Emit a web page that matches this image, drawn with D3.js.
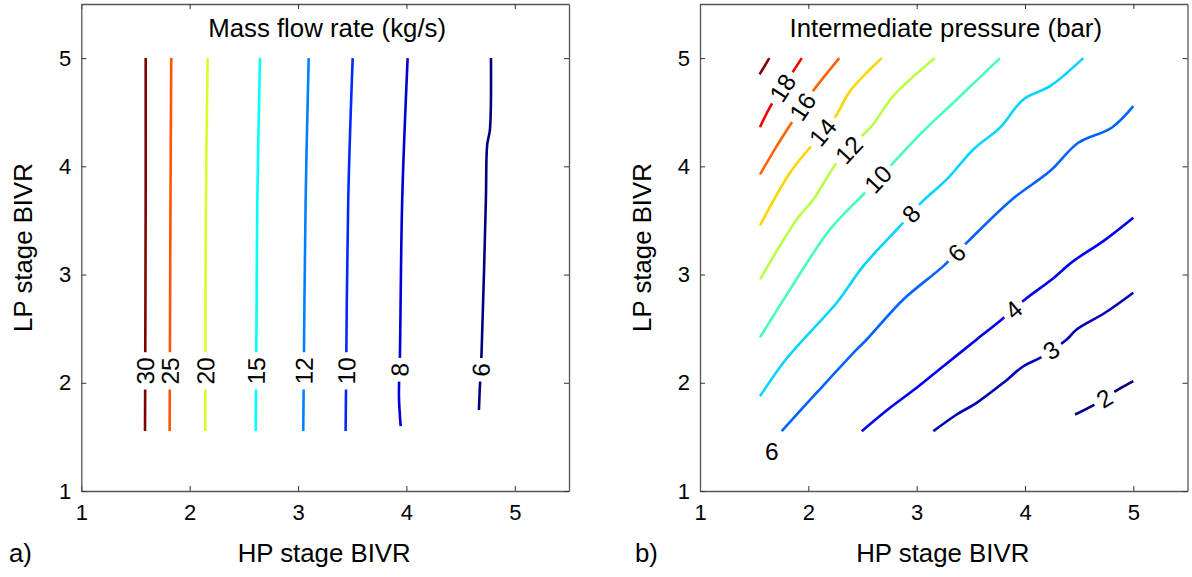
<!DOCTYPE html>
<html lang="en">
<head>
<meta charset="UTF-8" />
<title>BIVR contour maps</title>
<script src="https://d3js.org/d3.v7.min.js"></script>
<style>
  body { margin: 0; background: #fff; }
  svg { display: block; font-family: "Liberation Sans", Arial, Helvetica, sans-serif; }
  .axis text { font-size: 22px; fill: #000; }
  .axis .domain { stroke: #555; stroke-width: 1.3; }
  .axis line { stroke: #333; }
  .title, .alabel, .tag { font-size: 25.8px; fill: #000; }
  .clabel { font-size: 24.5px; fill: #000; }
  .contour { fill: none; stroke-width: 2.6; stroke-linejoin: round; stroke-linecap: butt; }
</style>
</head>
<body>
<div id="chart"></div>
<script>
// ---- data (HP stage BIVR, LP stage BIVR) ----
const xTicks = [1, 2, 3, 4, 5];
const yTicks = [1, 2, 3, 4, 5];

// a) mass flow rate (kg/s)
const massLevels = [30, 25, 20, 15, 12, 10, 8, 6];
const massPaths = [
  [[1.594, 5.0], [1.594, 3.69], [1.588, 1.555]],
  [[1.830, 5.0], [1.823, 3.69], [1.815, 1.555]],
  [[2.166, 5.0], [2.150, 3.69], [2.144, 1.555]],
  [[2.649, 5.0], [2.624, 3.69], [2.618, 2.765], [2.609, 1.555]],
  [[3.098, 5.0], [3.070, 3.69], [3.048, 1.555]],
  [[3.504, 5.0], [3.463, 3.69], [3.439, 1.555]],
  [[4.011, 5.0], [3.961, 3.69], [3.940, 2.257], [3.931, 1.872], [3.947, 1.60]],
  [[4.780, 5.0], [4.770, 4.336], [4.745, 4.198], [4.733, 3.689], [4.694, 2.303], [4.675, 1.906], [4.669, 1.749]]
];
const massLabelY = [2.11, 2.11, 2.11, 2.11, 2.11, 2.11, 2.12, 2.12];

// b) intermediate pressure (bar)
const pressureLevels = [20, 18, 16, 14, 12, 10, 8, 6, 4, 3, 2];
const pressurePaths = [
  [[1.64, 5.0], [1.55, 4.849]],
  [[1.939, 5.0], [1.831, 4.833], [1.655, 4.563], [1.554, 4.362]],
  [[2.286, 5.0], [2.031, 4.680], [1.846, 4.403], [1.708, 4.187], [1.554, 3.925]],
  [[2.677, 5.0], [2.385, 4.695], [2.253, 4.464], [2.052, 4.218], [1.831, 3.941], [1.554, 3.454]],
  [[3.169, 5.0], [2.784, 4.649], [2.585, 4.372], [2.461, 4.249], [2.262, 4.033], [2.046, 3.694], [1.893, 3.509], [1.554, 2.955]],
  [[3.769, 5.0], [3.370, 4.618], [3.061, 4.325], [2.754, 4.002], [2.523, 3.756], [2.200, 3.417], [1.831, 2.862], [1.554, 2.419]],
  [[4.538, 5.0], [4.231, 4.741], [3.985, 4.618], [3.769, 4.357], [3.523, 4.156], [3.277, 3.879], [3.047, 3.669], [2.846, 3.447],
   [2.507, 3.078], [2.262, 2.739], [1.954, 2.400], [1.769, 2.185], [1.554, 1.876]],
  [[5.0, 4.556], [4.800, 4.357], [4.492, 4.218], [4.231, 3.956], [3.880, 3.694], [3.477, 3.309], [3.246, 3.078], [2.877, 2.770],
   [2.539, 2.400], [2.447, 2.308], [2.077, 1.908], [1.754, 1.553]],
  [[5.0, 3.525], [4.723, 3.309], [4.446, 3.124], [4.247, 2.955], [4.0, 2.770], [3.785, 2.585], [3.554, 2.400], [3.246, 2.153],
   [3.0, 1.954], [2.754, 1.769], [2.493, 1.553]],
  [[5.0, 2.832], [4.739, 2.647], [4.477, 2.493], [4.385, 2.400], [4.139, 2.231], [3.985, 2.153], [3.800, 2.0], [3.554, 1.815],
   [3.370, 1.707], [3.154, 1.553]],
  [[5.0, 2.015], [4.862, 1.938], [4.616, 1.784], [4.462, 1.707]]
];
// [level, x, y, sits on line]
const pressureLabels = [
  [18, 1.738, 4.741, true], [16, 1.939, 4.556, true], [14, 2.138, 4.311, true], [12, 2.354, 4.172, true],
  [10, 2.615, 3.909, true], [8, 2.938, 3.571, true], [6, 3.370, 3.201, true], [6, 1.662, 1.368, false],
  [4, 3.892, 2.677, true], [3, 4.247, 2.292, true], [2, 4.739, 1.846, true]
];

// ---- layout ----
const width = 1192, height = 577;
const plotTop = 4, plotBottom = 491;

function jet(t) {
  const c = v => Math.round(255 * Math.max(0, Math.min(1, v)));
  return `rgb(${c(1.5 - Math.abs(4 * t - 3))},${c(1.5 - Math.abs(4 * t - 2))},${c(1.5 - Math.abs(4 * t - 1))})`;
}

const svg = d3.select("#chart").append("svg")
  .attr("width", width).attr("height", height);
svg.append("rect").attr("width", width).attr("height", height).attr("fill", "#fff");

const panels = [
  { left: 81.3, right: 569, title: "Mass flow rate (kg/s)", tag: "a)", tagX: 9,
    levels: massLevels, paths: massPaths,
    labels: massLevels.map((lv, i) => [lv, null, massLabelY[i], true]) },
  { left: 700, right: 1187.5, title: "Intermediate pressure (bar)", tag: "b)", tagX: 635,
    levels: pressureLevels, paths: pressurePaths, labels: pressureLabels }
];

panels.forEach(p => {
  const x = d3.scaleLinear().domain([1, 5.5]).range([p.left, p.right]);
  const y = d3.scaleLinear().domain([1, 5.5]).range([plotBottom, plotTop]);
  const color = d3.scaleLinear().domain(d3.extent(p.levels)).range([0, 1]);
  const g = svg.append("g");

  // contours
  const line = d3.line().x(d => x(d[0])).y(d => y(d[1])).curve(d3.curveCatmullRom.alpha(0.5));
  const pathsG = g.append("g");
  p.paths.forEach((pts, i) => {
    pathsG.append("path").attr("class", "contour")
      .attr("stroke", jet(color(p.levels[i])))
      .attr("d", line(pts));
  });

  // labels: snap to the contour, rotate along it, cut the line under the text
  const labG = g.append("g");
  p.labels.forEach(([lv, lx, ly, onLine]) => {
    const pts = p.paths[p.levels.indexOf(lv)].map(d => [x(d[0]), y(d[1])]);
    let px, py, ang = 0;
    if (lx === null) {
      // vertical contour: find x at given y
      const ty = y(ly);
      let best = 0;
      for (let k = 0; k < pts.length - 1; k++) {
        const [a, b] = [pts[k], pts[k + 1]];
        if ((ty - a[1]) * (ty - b[1]) <= 0) { best = k; break; }
      }
      const [a, b] = [pts[best], pts[best + 1]];
      const t = (ty - a[1]) / (b[1] - a[1]);
      px = a[0] + t * (b[0] - a[0]); py = ty;
      ang = Math.atan2(b[1] - a[1], b[0] - a[0]) * 180 / Math.PI;
    } else {
      const qx = x(lx), qy = y(ly);
      if (onLine) {
        let bd = Infinity;
        for (let k = 0; k < pts.length - 1; k++) {
          const [a, b] = [pts[k], pts[k + 1]];
          const dx = b[0] - a[0], dy = b[1] - a[1];
          const t = Math.max(0, Math.min(1, ((qx - a[0]) * dx + (qy - a[1]) * dy) / (dx * dx + dy * dy)));
          const cx = a[0] + t * dx, cy = a[1] + t * dy;
          const d = (cx - qx) ** 2 + (cy - qy) ** 2;
          if (d < bd) { bd = d; px = cx; py = cy; ang = Math.atan2(dy, dx) * 180 / Math.PI; }
        }
      } else { px = qx; py = qy; }
    }
    if (onLine) {
      while (ang >= 85) ang -= 180;
      while (ang < -95) ang += 180;
    } else ang = 0;
    const lg = labG.append("g").attr("transform", `translate(${px},${py}) rotate(${ang})`);
    const gap = lg.append("rect").attr("fill", "#fff");
    const txt = lg.append("text").attr("class", "clabel")
      .attr("text-anchor", "middle").attr("dy", "0.36em").text(lv);
    if (onLine) {
      const w = txt.node().getComputedTextLength() + 10;
      gap.attr("x", -w / 2).attr("y", -5.5).attr("width", w).attr("height", 11);
    }
  });

  // axes (ticks pointing inwards, box on all sides)
  g.append("g").attr("class", "axis").attr("transform", `translate(0,${plotBottom})`)
    .call(d3.axisBottom(x).tickValues(xTicks).tickSizeInner(-5).tickSizeOuter(0).tickPadding(13).tickFormat(d3.format("d")));
  g.append("g").attr("class", "axis").attr("transform", `translate(0,${plotTop})`)
    .call(d3.axisTop(x).tickValues(xTicks).tickSizeInner(-5).tickSizeOuter(0).tickFormat(""));
  g.append("g").attr("class", "axis").attr("transform", `translate(${p.left},0)`)
    .call(d3.axisLeft(y).tickValues(yTicks).tickSizeInner(-5).tickSizeOuter(0).tickPadding(10).tickFormat(d3.format("d")));
  g.append("g").attr("class", "axis").attr("transform", `translate(${p.right},0)`)
    .call(d3.axisRight(y).tickValues(yTicks).tickSizeInner(-5).tickSizeOuter(0).tickFormat(""));
  g.selectAll(".axis").attr("font-family", null).attr("font-size", null);

  const cx = (p.left + p.right) / 2;
  g.append("text").attr("class", "title").attr("x", cx + 2).attr("y", 37)
    .attr("text-anchor", "middle").text(p.title);
  g.append("text").attr("class", "alabel").attr("x", cx - 1).attr("y", 562)
    .attr("text-anchor", "middle").text("HP stage BIVR");
  g.append("text").attr("class", "alabel")
    .attr("transform", `translate(${p.left - 49},${(plotTop + plotBottom) / 2}) rotate(-90)`)
    .attr("text-anchor", "middle").text("LP stage BIVR");
  g.append("text").attr("class", "tag").attr("x", p.tagX).attr("y", 562).text(p.tag);
});
</script>
</body>
</html>
